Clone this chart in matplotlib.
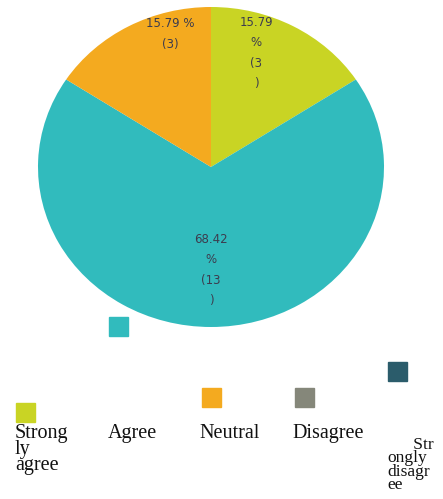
import matplotlib.pyplot as plt
from matplotlib.patches import Rectangle

# survey answers
categories = ["Strongly agree", "Agree", "Neutral", "Disagree", "Strongly disagree"]
counts = [3, 13, 3, 0, 0]
percents = [15.79, 68.42, 15.79, 0.0, 0.0]
colors = ["#c9d424", "#31bbbd", "#f4aa1f", "#85877a", "#2b5c6b"]

# wrapped texts as they show in the picture
slice_labels = ["15.79\n%\n(3\n)", "68.42\n%\n(13\n)", "15.79 %\n(3)"]
legend_texts = ["Strong\nly\nagree", "Agree", "Neutral", "Disagree", "      Str\nongly\ndisagr\nee"]

W, H = 443, 499
fig = plt.figure(figsize=(W / 100, H / 100), dpi=100)
ax = fig.add_axes([38 / W, 1 - 327 / H, 346 / W, 320 / H])

wedges, _ = ax.pie(counts, colors=colors, startangle=90, counterclock=False,
                   radius=1, wedgeprops=dict(linewidth=0))
ax.set_aspect("auto")
ax.set_xlim(-1, 1)
ax.set_ylim(-1, 1)
ax.axis("off")

# label spots in pixels (x, y of the text centre)
label_pos = [(256, 53), (211, 270), (170, 34)]
for txt, (px, py) in zip(slice_labels, label_pos):
    fig.text(px / W, 1 - py / H, txt, ha="center", va="center", fontsize=8.5,
             color="#3c3c4e", linespacing=1.75, family="DejaVu Sans")

# legend drawn by hand, squares sit at odd heights
sq_pos = [(16, 403), (109, 317), (202, 388), (295, 388), (388, 362)]
txt_pos = [(15, 424), (108, 424), (199, 424), (292, 424), (387, 437)]
txt_size = [14.5, 14.5, 14.5, 14.5, 12.5]
for c, (sx, sy) in zip(colors, sq_pos):
    fig.patches.append(Rectangle((sx / W, 1 - (sy + 19) / H), 19 / W, 19 / H,
                                 transform=fig.transFigure, color=c))
for t, (tx, ty), fs in zip(legend_texts, txt_pos, txt_size):
    fig.text(tx / W, 1 - ty / H, t, ha="left", va="top", fontsize=fs,
             family="Liberation Serif", color="#111111", linespacing=0.78)

fig.savefig("out.png", dpi=100)
